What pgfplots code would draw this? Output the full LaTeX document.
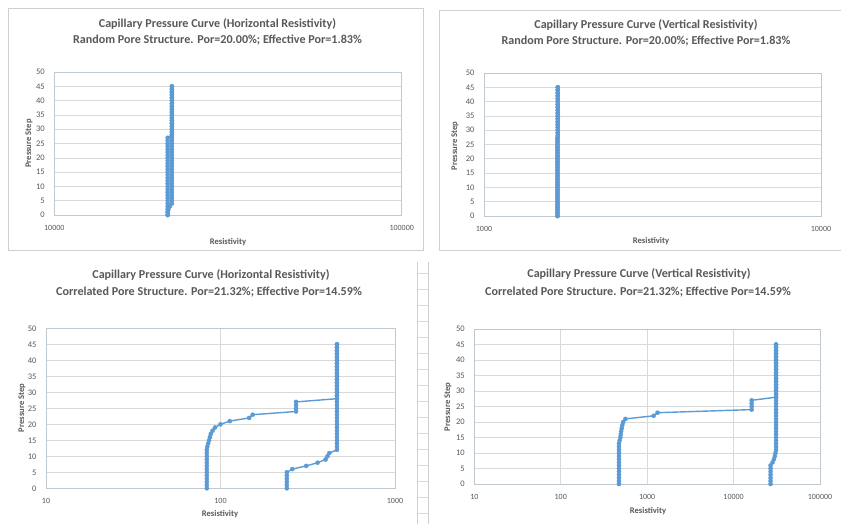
\documentclass[border=0pt]{standalone}
\usepackage{pgfplots}
\pgfplotsset{compat=1.18}
\usepackage{fontspec}
\setmainfont{Carlito}
\definecolor{serblue}{HTML}{5B9BD5}
\definecolor{textgray}{HTML}{595959}
\definecolor{gridgray}{HTML}{D9D9D9}
\definecolor{framegray}{HTML}{BFC8CE}
\definecolor{boxgray}{HTML}{CFCFCF}
\pgfplotsset{
  every axis/.append style={
    scale only axis,
    ymin=0, ymax=50,
    ytick={0,5,...,50},
    grid=major,
    major grid style={draw=gridgray, line width=0.6pt},
    axis line style={draw=framegray, line width=0.6pt},
    tick style={draw=none},
    ticklabel style={text=textgray},
    xticklabel style={font=\fontsize{8}{9}\selectfont, anchor=center, yshift=-13pt},
    yticklabel style={font=\fontsize{8.5}{9}\selectfont, anchor=east, xshift=-6pt},
  },
}
\pgfkeys{/pgf/number format/assume math mode=true}
\tikzset{
  ser/.style={draw=serblue, line width=1.4pt, mark=*, mark size=2.1pt, mark options={fill=serblue, draw=serblue, line width=0.3pt}},
  ttl/.style={font=\bfseries\fontsize{12.1}{14}\selectfont, text=textgray, anchor=center, inner sep=0pt},
  lab/.style={font=\bfseries\fontsize{8.6}{10}\selectfont, text=textgray, anchor=center, inner sep=0pt},
}
\begin{document}
\begin{tikzpicture}[x=1pt,y=1pt]
\path[use as bounding box, fill=white] (0,0) rectangle (841,523);
% chart boxes and spreadsheet lines
\draw[boxgray, line width=0.6pt] (8,273) rectangle (423,515);
\draw[boxgray, line width=0.6pt] (439,273) rectangle (845,513);
\draw[boxgray, line width=0.6pt] (417,-2) -- (417,261);
\draw[boxgray, line width=0.6pt] (428,-2) -- (428,261);
\foreach \yy in {250,234,218,202,186,170,154,138,122,106,90,74,58,42,26,10} {\draw[gridgray, line width=0.4pt] (417,\yy) -- (428,\yy);}

% ---------- Top-left ----------
\begin{semilogxaxis}[at={(54.3pt,308pt)}, anchor=south west, width=347.4pt, height=143pt,
  xmin=10000, xmax=100000, xtick={10000,100000}, xticklabels={10000,100000}]
\addplot[ser] coordinates {
(21200,0)(21200,1)(21200,2)(21200,3)(21200,4)(21200,5)(21200,6)(21200,7)(21200,8)(21200,9)
(21200,10)(21200,11)(21200,12)(21200,13)(21200,14)(21200,15)(21200,16)(21200,17)(21200,18)(21200,19)
(21200,20)(21200,21)(21200,22)(21200,23)(21200,24)(21200,25)(21200,26)(21200,27)
(21800,28)(21800,29)(21800,30)(21800,31)(21800,32)(21800,33)(21800,34)(21800,35)(21800,36)(21800,37)
(21800,38)(21800,39)(21800,40)(21800,41)(21800,42)(21800,43)(21800,44)(21800,45)};
\addplot[ser] coordinates {
(21200,0)(21200,1)(21300,2)(21500,3)
(21800,4)(21800,5)(21800,6)(21800,7)(21800,8)(21800,9)
(21800,10)(21800,11)(21800,12)(21800,13)(21800,14)(21800,15)(21800,16)(21800,17)(21800,18)(21800,19)
(21800,20)(21800,21)(21800,22)(21800,23)(21800,24)(21800,25)(21800,26)(21800,27)
(21800,28)(21800,29)(21800,30)(21800,31)(21800,32)(21800,33)(21800,34)(21800,35)(21800,36)(21800,37)
(21800,38)(21800,39)(21800,40)(21800,41)(21800,42)(21800,43)(21800,44)(21800,45)};
\end{semilogxaxis}

% ---------- Top-right ----------
\begin{semilogxaxis}[at={(484pt,307pt)}, anchor=south west, width=337pt, height=143pt,
  xmin=1000, xmax=10000, xtick={1000,10000}, xticklabels={1000,10000}]
\addplot[ser] coordinates {
(1650,0)(1650,1)(1650,2)(1650,3)(1650,4)(1650,5)(1650,6)(1650,7)(1650,8)(1650,9)
(1650,10)(1650,11)(1650,12)(1650,13)(1650,14)(1650,15)(1650,16)(1650,17)(1650,18)(1650,19)
(1650,20)(1650,21)(1650,22)(1650,23)(1650,24)(1650,25)(1650,26)(1650,27)
(1655,28)(1655,29)(1655,30)(1655,31)(1655,32)(1655,33)(1655,34)(1655,35)(1655,36)(1655,37)
(1655,38)(1655,39)(1655,40)(1655,41)(1655,42)(1655,43)(1655,44)(1655,45)};
\addplot[ser] coordinates {
(1655,0)(1655,1)(1655,2)(1655,3)(1655,4)(1655,5)(1655,6)(1655,7)(1655,8)(1655,9)
(1655,10)(1655,11)(1655,12)(1655,13)(1655,14)(1655,15)(1655,16)(1655,17)(1655,18)(1655,19)
(1655,20)(1655,21)(1655,22)(1655,23)(1655,24)(1655,25)(1655,26)(1655,27)
(1655,28)(1655,29)(1655,30)(1655,31)(1655,32)(1655,33)(1655,34)(1655,35)(1655,36)(1655,37)
(1655,38)(1655,39)(1655,40)(1655,41)(1655,42)(1655,43)(1655,44)(1655,45)};
\end{semilogxaxis}

% ---------- Bottom-left ----------
\begin{semilogxaxis}[at={(46pt,34.7pt)}, anchor=south west, width=349pt, height=160pt,
  xmin=10, xmax=1000, xtick={10,100,1000}, xticklabels={10,100,1000}]
\addplot[ser] coordinates {
(83.5,0)(83.5,1)(83.5,2)(83.5,3)(83.5,4)(83.5,5)(83.5,6)(83.5,7)(83.5,8)(83.5,9)
(83.5,10)(83.5,11)(83.5,12)(84,13)(85,14)(86,15)(87,16)(88,17)(90,18)(93,19)
(100,20)(113,21)(146,22)(153,23)(271,24)(271,25)(271,26)(271,27)
(465,28)(465,29)(465,30)(465,31)(465,32)(465,33)(465,34)(465,35)(465,36)(465,37)
(465,38)(465,39)(465,40)(465,41)(465,42)(465,43)(465,44)(465,45)};
\addplot[ser] coordinates {
(240,0)(240,1)(240,2)(240,3)(240,4)(240,5)(258,6)(310,7)(360,8)(400,9)
(410,10)(420,11)(465,12)(465,13)(465,14)(465,15)(465,16)(465,17)(465,18)(465,19)
(465,20)(465,21)(465,22)(465,23)(465,24)(465,25)(465,26)(465,27)
(465,28)(465,29)(465,30)(465,31)(465,32)(465,33)(465,34)(465,35)(465,36)(465,37)
(465,38)(465,39)(465,40)(465,41)(465,42)(465,43)(465,44)(465,45)};
\end{semilogxaxis}

% ---------- Bottom-right ----------
\begin{semilogxaxis}[at={(474.3pt,39pt)}, anchor=south west, width=345.7pt, height=155pt,
  xmin=10, xmax=100000, xtick={10,100,1000,10000,100000}, xticklabels={10,100,1000,10000,100000}]
\addplot[ser] coordinates {
(472,0)(472,1)(472,2)(472,3)(472,4)(472,5)(472,6)(472,7)(472,8)(472,9)
(472,10)(472,11)(472,12)(472,13)(480,14)(490,15)(495,16)(500,17)(508,18)(516,19)
(528,20)(560,21)(1190,22)(1320,23)(16200,24)(16200,25)(16200,26)(16200,27)
(31000,28)(31000,29)(31000,30)(31000,31)(31000,32)(31000,33)(31000,34)(31000,35)(31000,36)(31000,37)
(31000,38)(31000,39)(31000,40)(31000,41)(31000,42)(31000,43)(31000,44)(31000,45)};
\addplot[ser] coordinates {
(26800,0)(26800,1)(26800,2)(26800,3)(26800,4)(26800,5)(26800,6)(28300,7)(29300,8)(30000,9)
(30500,10)(31000,11)(31000,12)(31000,13)(31000,14)(31000,15)(31000,16)(31000,17)(31000,18)(31000,19)
(31000,20)(31000,21)(31000,22)(31000,23)(31000,24)(31000,25)(31000,26)(31000,27)
(31000,28)(31000,29)(31000,30)(31000,31)(31000,32)(31000,33)(31000,34)(31000,35)(31000,36)(31000,37)
(31000,38)(31000,39)(31000,40)(31000,41)(31000,42)(31000,43)(31000,44)(31000,45)};
\end{semilogxaxis}

% ---------- Titles and labels ----------
\node[ttl] at (217.5,499) {Capillary Pressure Curve (Horizontal Resistivity)};
\node[ttl] at (217.5,483) {Random Pore Structure. Por=20.00\%; Effective Por=1.83\%};
\node[ttl] at (646,498) {Capillary Pressure Curve (Vertical Resistivity)};
\node[ttl] at (646,482) {Random Pore Structure. Por=20.00\%; Effective Por=1.83\%};
\node[ttl] at (211,248) {Capillary Pressure Curve (Horizontal Resistivity)};
\node[ttl] at (209,231) {Correlated Pore Structure. Por=21.32\%; Effective Por=14.59\%};
\node[ttl] at (639,249) {Capillary Pressure Curve (Vertical Resistivity)};
\node[ttl] at (638,231) {Correlated Pore Structure. Por=21.32\%; Effective Por=14.59\%};

\node[lab] at (228,281) {Resistivity};
\node[lab, rotate=90] at (29,379.5) {Pressure Step};
\node[lab] at (651,282) {Resistivity};
\node[lab, rotate=90] at (455,377) {Pressure Step};
\node[lab] at (220,9) {Resistivity};
\node[lab, rotate=90] at (22,115) {Pressure Step};
\node[lab] at (648,12) {Resistivity};
\node[lab, rotate=90] at (448,116) {Pressure Step};
\end{tikzpicture}
\end{document}
